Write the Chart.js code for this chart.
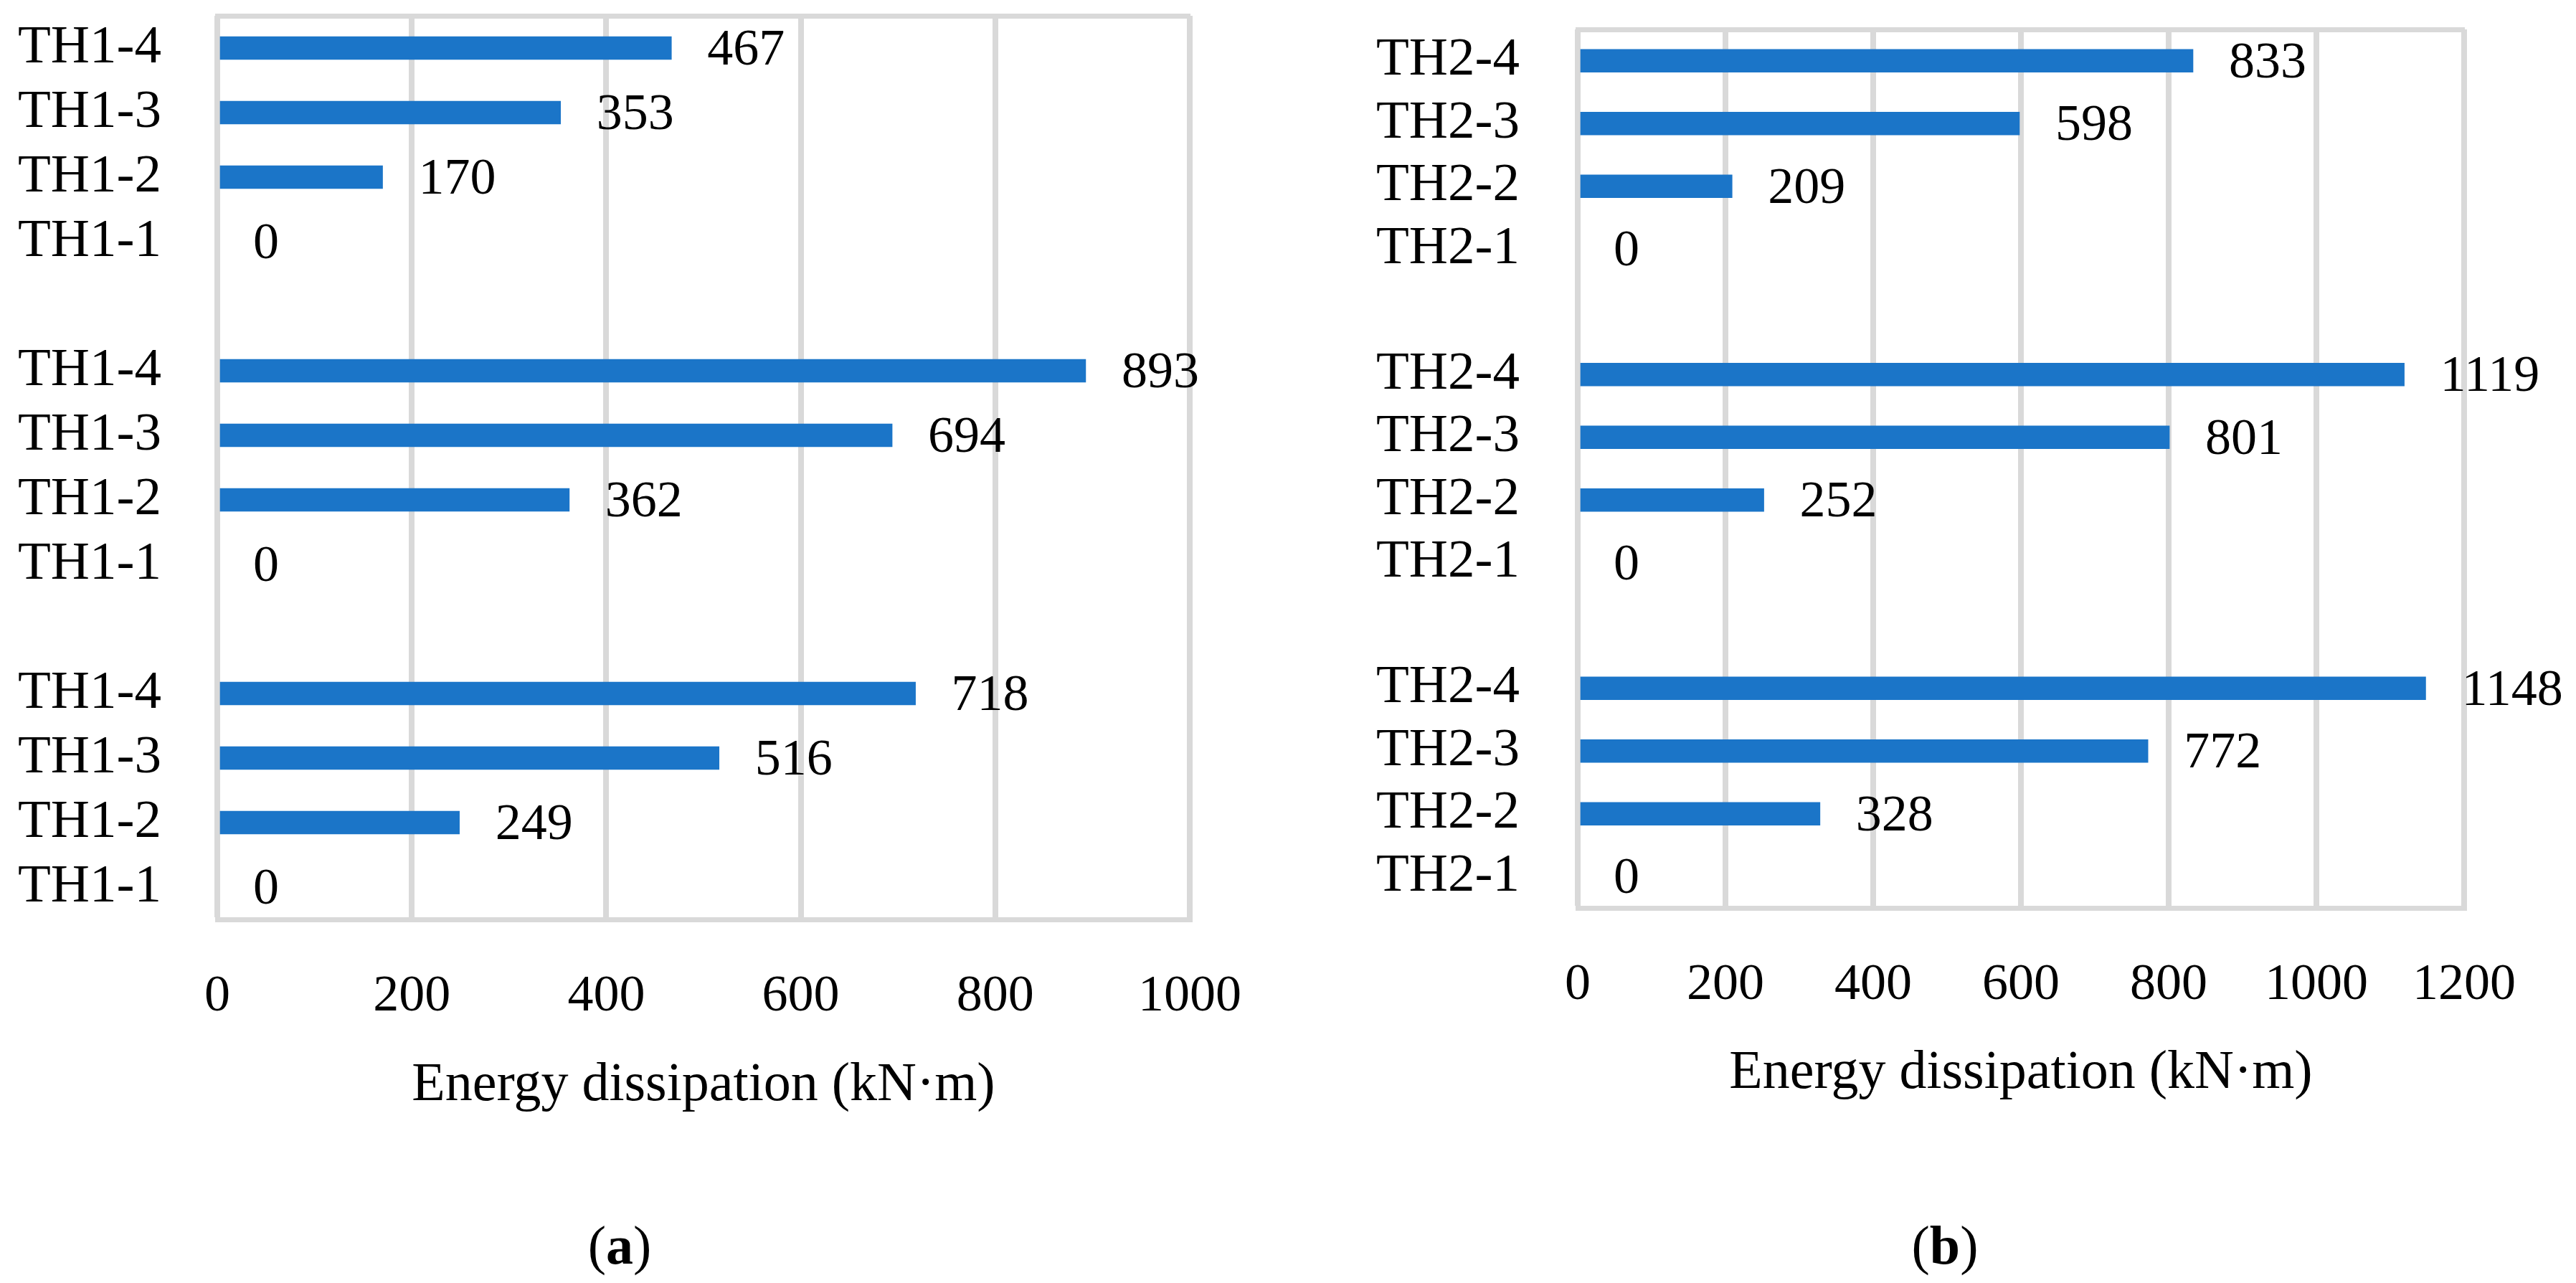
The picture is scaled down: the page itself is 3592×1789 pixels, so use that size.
<!DOCTYPE html>
<html>
<head>
<meta charset="utf-8">
<script src="https://cdn.jsdelivr.net/npm/chart.js@4.4.1/dist/chart.umd.min.js"></script>
<style>
  html, body { margin: 0; padding: 0; background: #fff; }
  body { width: 3592px; height: 1789px; position: relative; overflow: hidden; font-family: "Liberation Serif", serif; }
  .panel { position: absolute; top: 0; width: 1796px; height: 1789px; }
  .cap { position: absolute; top: 1691px; width: 400px; line-height: 90px; font-size: 76px; text-align: center; color: #000; }
</style>
</head>
<body>
<div class="panel" style="left:0"><canvas id="chartA"></canvas></div>
<div class="panel" style="left:1796px"><canvas id="chartB"></canvas></div>
<div class="cap" style="left:664px">(<b>a</b>)</div>
<div class="cap" style="left:2512px">(<b>b</b>)</div>
<script>
// panel (a)
const labelsA = ["TH1-4", "TH1-3", "TH1-2", "TH1-1", "",
                 "TH1-4", "TH1-3", "TH1-2", "TH1-1", "",
                 "TH1-4", "TH1-3", "TH1-2", "TH1-1"];
const valuesA = [467, 353, 170, 0, null,
                 893, 694, 362, 0, null,
                 718, 516, 249, 0];
const xTicksA = [0, 200, 400, 600, 800, 1000];

// panel (b)
const labelsB = ["TH2-4", "TH2-3", "TH2-2", "TH2-1", "",
                 "TH2-4", "TH2-3", "TH2-2", "TH2-1", "",
                 "TH2-4", "TH2-3", "TH2-2", "TH2-1"];
const valuesB = [833, 598, 209, 0, null,
                 1119, 801, 252, 0, null,
                 1148, 772, 328, 0];
const xTicksB = [0, 200, 400, 600, 800, 1000, 1200];

const axisTitle = "Energy dissipation (kN·m)";
const FONT = "Liberation Serif";
const GRID = "#d9d9d9";
const BAR = "#1b75c8";

// value labels right of each bar
const valueLabels = {
  id: "valueLabels",
  afterDatasetsDraw(chart) {
    const ctx = chart.ctx;
    const meta = chart.getDatasetMeta(0);
    const data = chart.data.datasets[0].data;
    ctx.save();
    ctx.font = "72px \"" + FONT + "\"";
    ctx.fillStyle = "#000";
    ctx.textAlign = "left";
    ctx.textBaseline = "middle";
    meta.data.forEach((bar, i) => {
      if (data[i] === null) return;
      ctx.fillText(String(data[i]), bar.x + 50, bar.y + 4);
    });
    ctx.restore();
  }
};

function makeChart(id, labels, values, xTicks, g) {
  return new Chart(document.getElementById(id), {
    type: "bar",
    data: {
      labels: labels,
      datasets: [{
        data: values,
        backgroundColor: c => (c.raw ? BAR : "rgba(0,0,0,0)"),
        borderWidth: 0,
        barThickness: 32
      }]
    },
    options: {
      indexAxis: "y",
      responsive: true,
      maintainAspectRatio: false,
      animation: false,
      layout: { padding: { left: 0, right: g.right, top: g.top, bottom: g.bottom } },
      plugins: { legend: { display: false }, tooltip: { enabled: false } },
      scales: {
        x: {
          position: "bottom",
          min: 0,
          max: xTicks[xTicks.length - 1],
          afterBuildTicks: s => { s.ticks = xTicks.map(v => ({ value: v })); },
          afterFit: s => { s.height = 300; },
          grid: { color: GRID, lineWidth: 8, drawTicks: false },
          border: { display: true, color: GRID, width: 7 },
          ticks: {
            padding: g.tickPad,
            color: "#000",
            font: { family: FONT, size: 72 },
            callback: v => String(v)
          },
          title: {
            display: true,
            text: axisTitle,
            color: "#000",
            font: { family: FONT, size: 76 },
            padding: { top: 0, bottom: g.titlePad }
          }
        },
        xTop: {
          axis: "x",
          position: "top",
          display: true,
          min: 0,
          max: xTicks[xTicks.length - 1],
          grid: { display: false },
          ticks: { display: false },
          border: { display: true, color: GRID, width: 7 },
          afterFit: s => { s.height = 0; }
        },
        y: {
          grid: { display: false, drawTicks: false },
          border: { display: false },
          afterFit: s => {
            s.width = g.yWidth;
            s.paddingTop = 0;
            s.paddingBottom = 0;
          },
          ticks: { padding: g.yPad, autoSkip: false, color: "#000", font: { family: FONT, size: 75 } }
        }
      }
    },
    plugins: [valueLabels]
  });
}

makeChart("chartA", labelsA, valuesA, xTicksA,
  { right: 127, top: 22, bottom: 207, yWidth: 303, yPad: 78, tickPad: 65, titlePad: 22 });
makeChart("chartB", labelsB, valuesB, xTicksB,
  { right: 156, top: 41, bottom: 223, yWidth: 404, yPad: 81, tickPad: 65, titlePad: 23 });
</script>
</body>
</html>
